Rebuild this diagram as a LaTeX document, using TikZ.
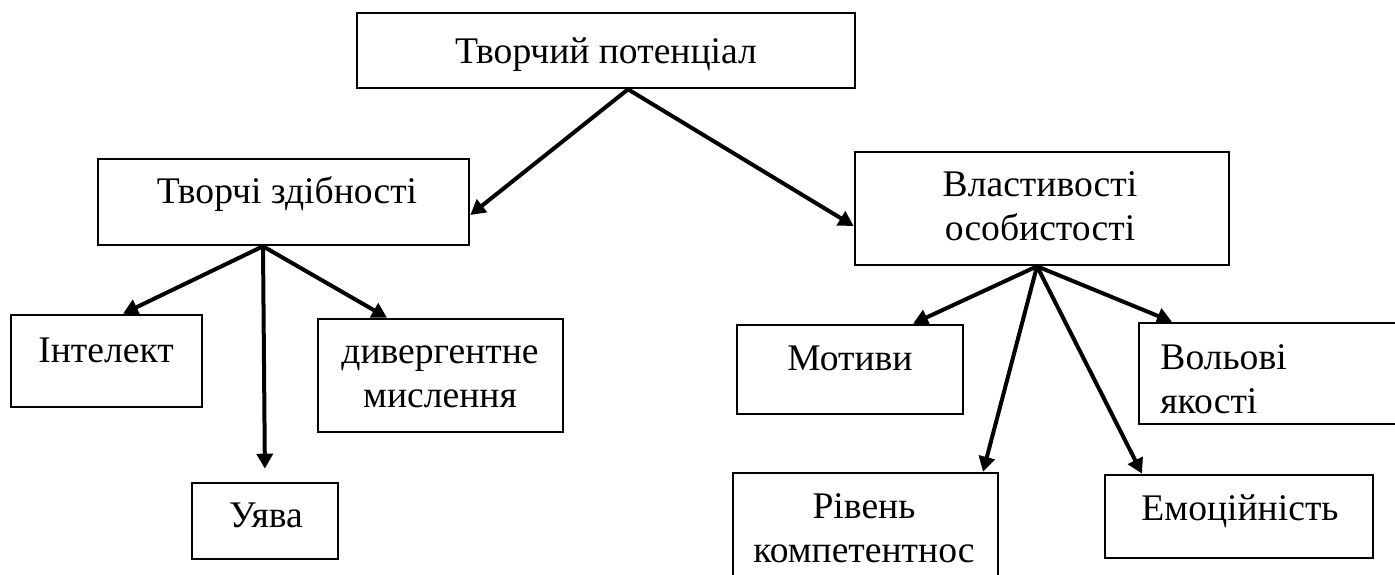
\documentclass[tikz,border=0pt]{standalone}
\usepackage{fontspec}
\setmainfont{Liberation Serif}
\usepackage{tikz}
\usetikzlibrary{arrows.meta}
\usetikzlibrary{fit}
\tikzstyle{blok}=[draw,line width=1.3pt,inner sep=0pt]
\tikzstyle{napys}=[anchor=base,inner sep=0pt,font=\fontsize{18.8pt}{22pt}\selectfont]
\tikzstyle{strilka}=[line width=2pt,-{Triangle[length=7.5pt,width=8pt]}]
\begin{document}
\begin{tikzpicture}[x=0.5pt,y=-0.5pt]
	\useasboundingbox (0,0) rectangle (1395,574);
	\clip (0,0) rectangle (1395,574);
	% boxes
	\node[blok,fit={(357,13) (855,88)}] (tp) {};
	\node[blok,fit={(98,159) (469,245)}] (tz) {};
	\node[blok,fit={(855,152) (1229,265)}] (vl) {};
	\node[blok,fit={(11,315) (202,407)}] (ie) {};
	\node[blok,fit={(192,483) (338,559)}] (uv) {};
	\node[blok,fit={(318,319) (563,432)}] (dv) {};
	\node[blok,fit={(737,325) (963,414)}] (mt) {};
	\node[blok,fit={(733,473) (998,620)}] (rk) {};
	\node[blok,fit={(1105,475) (1373,558)}] (em) {};
	\node[blok,fit={(1139,323) (1430,424)}] (vo) {};
	% texts (two-line nodes sit on their last baseline)
	\node[napys] (tpt) at (606,63) {Творчий потенціал};
	\node[napys] (tzt) at (287,203) {Творчі здібності};
	\node[napys,align=center] (vlt) at (1040,240) {Властивості\\особистості};
	\node[napys] (iet) at (106,362) {Інтелект};
	\node[napys] (uvt) at (266,527) {Уява};
	\node[napys,align=center] (dvt) at (440,407) {дивергентне\\мислення};
	\node[napys] (mtt) at (850,370) {Мотиви};
	\node[napys,align=center] (rkt) at (864,562) {Рівень\\компетентнос};
	\node[napys] (emt) at (1240,520) {Емоційність};
	\node[napys,align=left,anchor=base west] (vot) at (1160,413) {Вольові\\якості};
	% fan points
	\coordinate (tpo) at (tp.south -| 628,0);
	\coordinate (tzo) at (tz.south -| 263,0);
	\coordinate (vlo) at (vl.south -| 1037,0);
	% arrows
	\draw[strilka] (tpo) -- (tz.east |- 0,215);
	\draw[strilka] (tpo) -- (vl.west |- 0,226);
	\draw[strilka] (tzo) -- (ie.north -| 123,0);
	\draw[strilka,shorten >=6.5pt] (tzo) -- (uv.north -| 265,0);
	\draw[strilka] (tzo) -- (dv.north -| 387,0);
	\draw[strilka] (vlo) -- (mt.north -| 913,0);
	\draw[strilka] (vlo) -- (rk.north -| 983,0);
	\draw[strilka] (vlo) -- (em.north -| 1142,0);
	\draw[strilka] (vlo) -- (vo.north -| 1172,0);
\end{tikzpicture}
\end{document}
